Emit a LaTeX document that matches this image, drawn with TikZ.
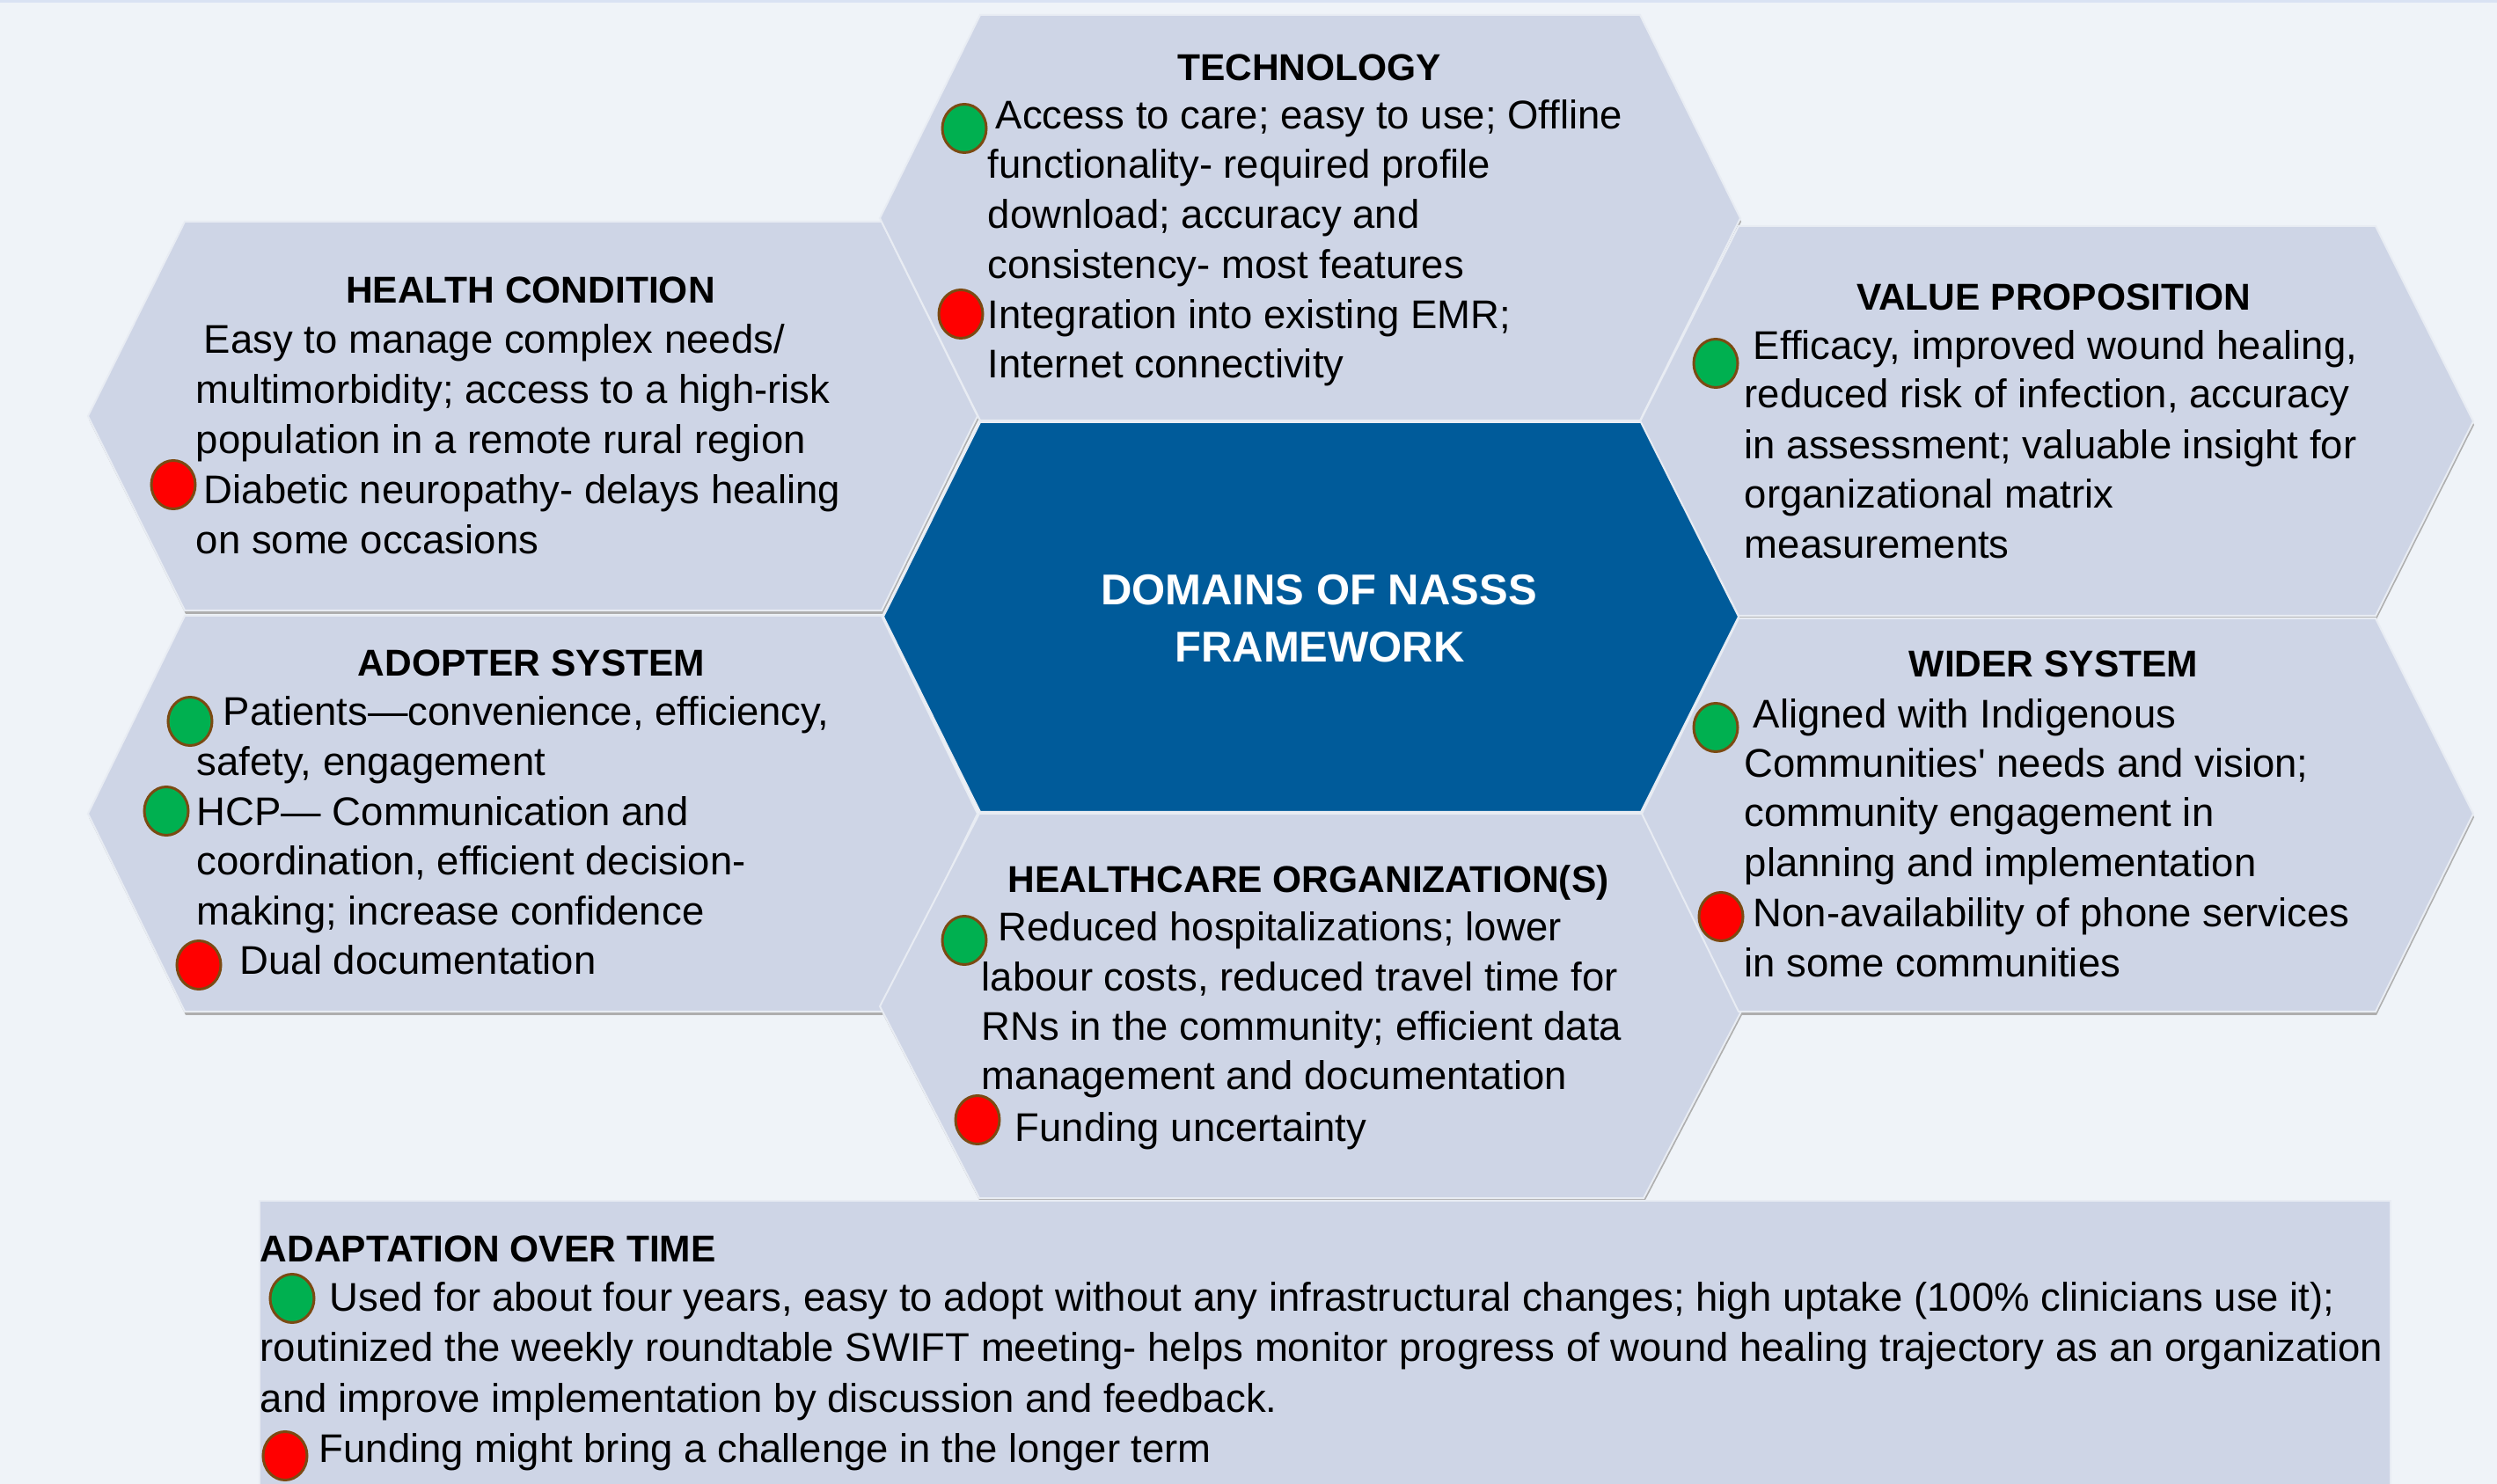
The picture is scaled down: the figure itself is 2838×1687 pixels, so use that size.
\documentclass[tikz,border=0pt]{standalone}
\usepackage{fontspec}
\newfontfamily\bodyfont{Liberation Sans}
\usetikzlibrary{shapes.geometric}
\definecolor{bgc}{HTML}{EFF3F8}
\definecolor{stripec}{HTML}{D9E2F3}
\definecolor{hexfill}{HTML}{CED5E6}
\definecolor{hexedge}{HTML}{E8ECF3}
\definecolor{centerblue}{HTML}{005B9A}
\definecolor{shadowc}{HTML}{AEAEAE}
\definecolor{dotgreen}{HTML}{00B050}
\definecolor{dotred}{HTML}{FF0000}
\definecolor{dotrim}{HTML}{7B4A12}
\newcommand{\hexshape}[8]{\path[#1] (#2,#7) -- (#3,#6) -- (#4,#6) -- (#5,#7) -- (#4,#8) -- (#3,#8) -- cycle;}
\begin{document}
\begin{tikzpicture}[x=0.25pt,y=-0.25pt,
  hexshadow/.style={fill=shadowc,shift={(1,4)}},
  hexcell/.style={fill=hexfill,draw=hexedge,line width=0.5pt},
  hexcore/.style={fill=centerblue,draw=hexedge,line width=0.5pt},
  txt/.style={anchor=base west,inner sep=0pt,font=\bodyfont\fontsize{11.375}{13}\selectfont},
  ttl/.style={anchor=base,inner sep=0pt,font=\bodyfont\bfseries\fontsize{10.625}{12}\selectfont},
  ttlw/.style={anchor=base west,inner sep=0pt,font=\bodyfont\bfseries\fontsize{10.625}{12}\selectfont},
  ctr/.style={anchor=base,inner sep=0pt,text=white,font=\bodyfont\bfseries\fontsize{12.25}{14}\selectfont},
  dotbase/.style={ellipse,draw=dotrim,line width=0.75pt,minimum width=12.5pt,minimum height=13.75pt,inner sep=0pt},
  gdot/.style={dotbase,fill=dotgreen},
  rdot/.style={dotbase,fill=dotred}]
\useasboundingbox (0,0) rectangle (2838,1687);
\fill[bgc] (0,0) rectangle (2838,1687);
\fill[stripec] (0,0) rectangle (2838,3);
% shadows
\hexshape{hexshadow}{100}{210}{1002}{1111}{252}{473}{694}
\hexshape{hexshadow}{100}{210}{1002}{1111}{700}{925}{1150}
\hexshape{hexshadow}{1000}{1114}{1864}{1978}{17}{248}{478}
\hexshape{hexshadow}{1000}{1113}{1868}{1982}{925}{1144}{1362}
\hexshape{hexshadow}{1864}{1976}{2700}{2811}{257}{479}{700}
\hexshape{hexshadow}{1866}{1976}{2700}{2811}{703}{925}{1150}
% cells
\hexshape{hexcell}{100}{210}{1002}{1111}{252}{473}{694}
\hexshape{hexcell}{100}{210}{1002}{1111}{700}{925}{1150}
\hexshape{hexcell}{1000}{1114}{1864}{1978}{17}{248}{478}
\hexshape{hexcell}{1000}{1113}{1868}{1982}{925}{1144}{1362}
\hexshape{hexcell}{1864}{1976}{2700}{2811}{257}{479}{700}
\hexshape{hexcell}{1866}{1976}{2700}{2811}{703}{925}{1150}
\hexshape{hexcore}{1004}{1114}{1865}{1976}{480}{701}{923}
% adaptation box
\fill[hexfill] (295,1365) rectangle (2717,1687);
\draw[hexedge,line width=0.5pt] (295,1687) -- (295,1365) -- (2717,1365) -- (2717,1687);

% centre
\node[ctr] (c1) at (1499,688) {DOMAINS OF NASSS};
\node[ctr] (c2) at (1500,753) {FRAMEWORK};

% health condition
\node[ttl] (hct) at (603,345) {HEALTH CONDITION};
\node[txt] (hc1) at (231,402) {Easy to manage complex needs/};
\node[txt] (hc2) at (222,459) {multimorbidity; access to a high-risk};
\node[txt] (hc3) at (222,516) {population in a remote rural region};
\node[rdot] (hcd1) at (197,551) {};
\node[txt] (hc4) at (231,573) {Diabetic neuropathy- delays healing};
\node[txt] (hc5) at (222,630) {on some occasions};

% technology
\node[ttl] (tet) at (1488,92) {TECHNOLOGY};
\node[gdot] (ted1) at (1096,146) {};
\node[txt] (te1) at (1131,147) {Access to care; easy to use; Offline};
\node[txt] (te2) at (1122,203) {functionality- required profile};
\node[txt] (te3) at (1122,260) {download; accuracy and};
\node[txt] (te4) at (1122,317) {consistency- most features};
\node[rdot] (ted2) at (1092,357) {};
\node[txt] (te5) at (1122,374) {Integration into existing EMR;};
\node[txt] (te6) at (1122,430) {Internet connectivity};

% value proposition
\node[ttl] (vpt) at (2334,353) {VALUE PROPOSITION};
\node[gdot] (vpd1) at (1950,413) {};
\node[txt] (vp1) at (1992,409) {Efficacy, improved wound healing,};
\node[txt] (vp2) at (1982,464) {reduced risk of infection, accuracy};
\node[txt] (vp3) at (1982,522) {in assessment; valuable insight for};
\node[txt] (vp4) at (1982,578) {organizational matrix};
\node[txt] (vp5) at (1982,635) {measurements};

% wider system
\node[ttl] (wst) at (2334,770) {WIDER SYSTEM};
\node[gdot] (wsd1) at (1950,827) {};
\node[txt] (ws1) at (1992,828) {Aligned with Indigenous};
\node[txt] (ws2) at (1982,884) {Communities' needs and vision;};
\node[txt] (ws3) at (1982,940) {community engagement in};
\node[txt] (ws4) at (1982,997) {planning and implementation};
\node[rdot] (wsd2) at (1956,1042) {};
\node[txt] (ws5) at (1992,1054) {Non-availability of phone services};
\node[txt] (ws6) at (1982,1111) {in some communities};

% adopter system
\node[ttl] (ast) at (604,769) {ADOPTER SYSTEM};
\node[gdot] (asd1) at (216,820) {};
\node[txt] (as1) at (253,825) {Patients—convenience, efficiency,};
\node[txt] (as2) at (223,882) {safety, engagement};
\node[gdot] (asd2) at (189,922) {};
\node[txt] (as3) at (223,939) {HCP— Communication and};
\node[txt] (as4) at (223,995) {coordination, efficient decision-};
\node[txt] (as5) at (223,1052) {making; increase confidence};
\node[rdot] (asd3) at (226,1097) {};
\node[txt] (as6) at (272,1108) {Dual documentation};

% healthcare organization
\node[ttl] (hot) at (1487,1015) {HEALTHCARE ORGANIZATION(S)};
\node[gdot] (hod1) at (1096,1069) {};
\node[txt] (ho1) at (1134,1070) {Reduced hospitalizations; lower};
\node[txt] (ho2) at (1115,1127) {labour costs, reduced travel time for};
\node[txt] (ho3) at (1115,1183) {RNs in the community; efficient data};
\node[txt] (ho4) at (1115,1239) {management and documentation};
\node[rdot] (hod2) at (1111,1273) {};
\node[txt] (ho5) at (1153,1297) {Funding uncertainty};

% adaptation over time
\node[ttlw] (aot) at (295,1435) {ADAPTATION OVER TIME};
\node[gdot] (aod1) at (332,1476) {};
\node[txt] (ao1) at (374,1490) {Used for about four years,\ easy to adopt without any infrastructural changes; high uptake (100\% clinicians use it);};
\node[txt] (ao2) at (295,1547) {routinized the weekly roundtable SWIFT meeting- helps monitor progress of wound healing trajectory as an organization};
\node[txt] (ao3) at (295,1605) {and improve implementation by discussion and feedback.};
\node[rdot] (aod2) at (324,1655) {};
\node[txt] (ao4) at (362,1662) {Funding might bring a challenge in the longer term};
\end{tikzpicture}
\end{document}
